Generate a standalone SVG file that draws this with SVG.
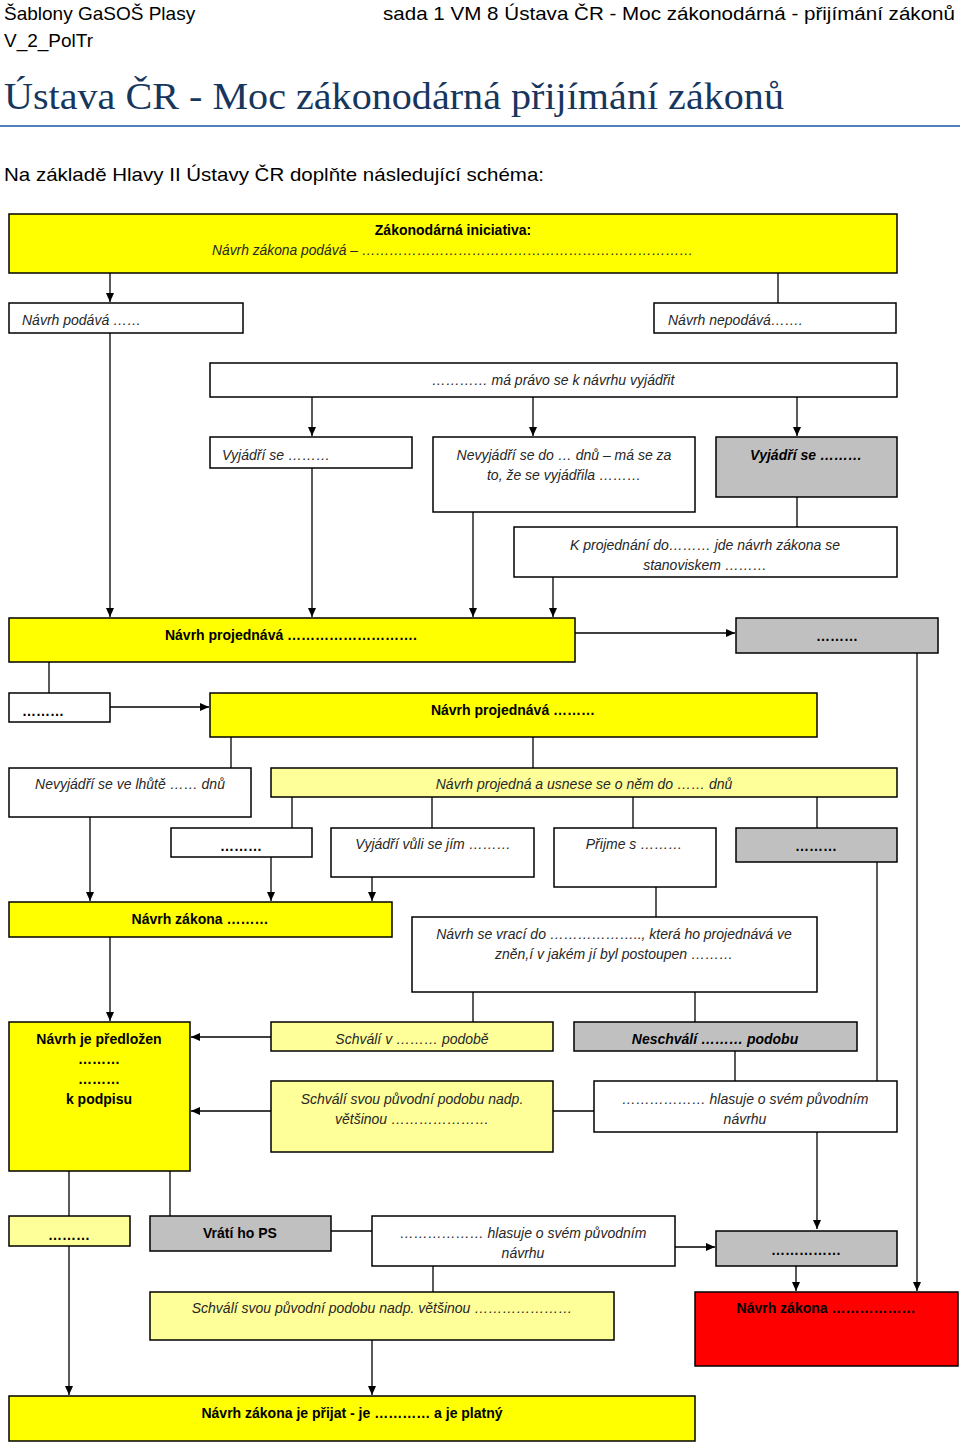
<svg xmlns="http://www.w3.org/2000/svg" width="960" height="1447" viewBox="0 0 960 1447">
<style>
.hd{font-family:"Liberation Sans",Arial,sans-serif;font-size:19px;fill:#000}
.ttl{font-family:"Liberation Serif","DejaVu Serif",serif;font-size:37px;fill:#17365D}
.bx{stroke:#000;stroke-width:1.5}
.w{fill:#fff}.y{fill:#ffff00}.ly{fill:#ffff99}.g{fill:#c0c0c0}.r{fill:#ff0000}
text.t{font-family:"Liberation Sans Narrow","Liberation Sans",Arial,sans-serif;font-size:14px;font-style:italic;fill:#262626}
text.b{font-family:"Liberation Sans Narrow","Liberation Sans",Arial,sans-serif;font-size:14px;font-weight:bold;fill:#000}
text.bi{font-family:"Liberation Sans Narrow","Liberation Sans",Arial,sans-serif;font-size:14px;font-weight:bold;font-style:italic;fill:#000}
.c{text-anchor:middle}
#conn line,#conn path{stroke:#000;stroke-width:1.3;fill:none}
</style>
<defs>
<marker id="ah" markerWidth="10" markerHeight="10" refX="9" refY="5" orient="auto" markerUnits="userSpaceOnUse">
<path d="M0,1 L9,5 L0,9 Z" fill="#000"/>
</marker>
</defs>
<rect width="960" height="1447" fill="#fff"/>
<text class="hd" x="4" y="20">Šablony GaSOŠ Plasy</text>
<text class="hd" x="4" y="47">V_2_PolTr</text>
<text class="hd" x="383" y="20" textLength="572" lengthAdjust="spacingAndGlyphs">sada 1 VM 8 Ústava ČR - Moc zákonodárná - přijímání zákonů</text>
<text class="ttl" x="4" y="109" textLength="780" lengthAdjust="spacingAndGlyphs">Ústava ČR - Moc zákonodárná přijímání zákonů</text>
<line x1="0" y1="126" x2="960" y2="126" stroke="#4F81BD" stroke-width="2"/>
<text class="hd" x="4" y="181" textLength="540" lengthAdjust="spacingAndGlyphs">Na základě Hlavy II Ústavy ČR doplňte následující schéma:</text>

<g id="conn">
<line x1="110" y1="273" x2="110" y2="302" marker-end="url(#ah)"/>
<line x1="778" y1="273" x2="778" y2="303"/>
<line x1="110" y1="333" x2="110" y2="617" marker-end="url(#ah)"/>
<line x1="312" y1="392" x2="312" y2="436" marker-end="url(#ah)"/>
<line x1="533" y1="392" x2="533" y2="436" marker-end="url(#ah)"/>
<line x1="797" y1="392" x2="797" y2="436" marker-end="url(#ah)"/>
<line x1="312" y1="468" x2="312" y2="617" marker-end="url(#ah)"/>
<line x1="473" y1="512" x2="473" y2="617" marker-end="url(#ah)"/>
<line x1="797" y1="497" x2="797" y2="527"/>
<line x1="553" y1="573" x2="553" y2="617" marker-end="url(#ah)"/>
<line x1="575" y1="633" x2="735" y2="633" marker-end="url(#ah)"/>
<line x1="917" y1="650" x2="917" y2="1291" marker-end="url(#ah)"/>
<line x1="49" y1="662" x2="49" y2="693"/>
<line x1="110" y1="707" x2="209" y2="707" marker-end="url(#ah)"/>
<line x1="231" y1="737" x2="231" y2="768"/>
<line x1="533" y1="737" x2="533" y2="768"/>
<line x1="292" y1="797" x2="292" y2="828"/>
<line x1="432" y1="797" x2="432" y2="828"/>
<line x1="633" y1="797" x2="633" y2="828"/>
<line x1="817" y1="797" x2="817" y2="828"/>
<line x1="90" y1="813" x2="90" y2="901" marker-end="url(#ah)"/>
<line x1="271" y1="857" x2="271" y2="901" marker-end="url(#ah)"/>
<line x1="372" y1="872" x2="372" y2="901" marker-end="url(#ah)"/>
<line x1="656" y1="887" x2="656" y2="917"/>
<line x1="877" y1="857" x2="877" y2="1081"/>
<line x1="110" y1="933" x2="110" y2="1021" marker-end="url(#ah)"/>
<line x1="473" y1="992" x2="473" y2="1022"/>
<line x1="695" y1="992" x2="695" y2="1022"/>
<line x1="271" y1="1037" x2="191" y2="1037" marker-end="url(#ah)"/>
<line x1="735" y1="1051" x2="735" y2="1081"/>
<line x1="553" y1="1111" x2="594" y2="1111"/>
<line x1="271" y1="1111" x2="191" y2="1111" marker-end="url(#ah)"/>
<line x1="817" y1="1132" x2="817" y2="1229" marker-end="url(#ah)"/>
<line x1="69" y1="1171" x2="69" y2="1216"/>
<line x1="170" y1="1171" x2="170" y2="1216"/>
<line x1="331" y1="1231" x2="372" y2="1231"/>
<line x1="675" y1="1247" x2="715" y2="1247" marker-end="url(#ah)"/>
<line x1="796" y1="1260" x2="796" y2="1291" marker-end="url(#ah)"/>
<line x1="433" y1="1266" x2="433" y2="1292"/>
<line x1="372" y1="1335" x2="372" y2="1395" marker-end="url(#ah)"/>
<line x1="69" y1="1242" x2="69" y2="1395" marker-end="url(#ah)"/>
</g>

<g id="n-iniciativa"><rect class="bx y" x="9" y="214" width="888" height="59"/>
<text class="b c" x="453" y="235">Zákonodárná iniciativa:</text>
<text class="t" x="212" y="255" textLength="481" lengthAdjust="spacingAndGlyphs">Návrh zákona podává – ………………………………………………………………</text></g>
<g id="n-podava"><rect class="bx w" x="9" y="303" width="234" height="30"/><text class="t" x="22" y="325">Návrh podává ……</text></g>
<g id="n-nepodava"><rect class="bx w" x="654" y="303" width="242" height="30"/><text class="t" x="668" y="325">Návrh nepodává…….</text></g>
<g id="n-pravo"><rect class="bx w" x="210" y="363" width="687" height="34"/><text class="t c" x="553" y="385">………… má právo se k návrhu vyjádřit</text></g>
<g id="n-vyjadri1"><rect class="bx w" x="210" y="437" width="202" height="31"/><text class="t" x="222" y="460">Vyjádří se ………</text></g>
<g id="n-nevyjadri"><rect class="bx w" x="433" y="437" width="262" height="75"/><text class="t c" x="564" y="460">Nevyjádří se do … dnů – má se za</text><text class="t c" x="564" y="480">to, že se vyjádřila ………</text></g>
<g id="n-vyjadri2"><rect class="bx g" x="716" y="437" width="181" height="60"/><text class="bi c" x="806" y="460">Vyjádří se ………</text></g>
<g id="n-projednani"><rect class="bx w" x="514" y="527" width="383" height="50"/><text class="t c" x="705" y="550">K projednání do……… jde návrh zákona se</text><text class="t c" x="705" y="570">stanoviskem ………</text></g>
<g id="n-projednava1"><rect class="bx y" x="9" y="618" width="566" height="44"/><text class="b c" x="291" y="640">Návrh projednává ……………………….</text></g>
<g id="n-gray1"><rect class="bx g" x="736" y="618" width="202" height="35"/><text class="b c" x="837" y="641">………</text></g>
<g id="n-dots1"><rect class="bx w" x="9" y="693" width="101" height="29"/><text class="b" x="22" y="716">………</text></g>
<g id="n-projednava2"><rect class="bx y" x="210" y="693" width="607" height="44"/><text class="b c" x="513" y="715">Návrh projednává ………</text></g>
<g id="n-lhuta"><rect class="bx w" x="9" y="768" width="242" height="49"/><text class="t c" x="130" y="789">Nevyjádří se ve lhůtě …… dnů</text></g>
<g id="n-usnese"><rect class="bx ly" x="271" y="768" width="626" height="29"/><text class="t c" x="584" y="789">Návrh projedná a usnese se o něm do …… dnů</text></g>
<g id="n-dots2"><rect class="bx w" x="171" y="828" width="141" height="29"/><text class="b c" x="241" y="851">………</text></g>
<g id="n-vule"><rect class="bx w" x="331" y="828" width="203" height="49"/><text class="t c" x="433" y="849">Vyjádří vůli se jím ………</text></g>
<g id="n-prijme"><rect class="bx w" x="554" y="828" width="162" height="59"/><text class="t c" x="634" y="849">Přijme s ………</text></g>
<g id="n-gray2"><rect class="bx g" x="736" y="828" width="161" height="34"/><text class="b c" x="816" y="851">………</text></g>
<g id="n-zakona1"><rect class="bx y" x="9" y="902" width="383" height="35"/><text class="b c" x="200" y="924">Návrh zákona ………</text></g>
<g id="n-vraci"><rect class="bx w" x="412" y="917" width="405" height="75"/><text class="t c" x="614" y="939">Návrh se vrací do ……………….., která ho projednává ve</text><text class="t c" x="614" y="959">zněn,í v jakém jí byl postoupen ………</text></g>
<g id="n-predlozen"><rect class="bx y" x="9" y="1022" width="181" height="149"/>
<text class="b c" x="99" y="1044">Návrh je předložen</text><text class="b c" x="99" y="1064">………</text><text class="b c" x="99" y="1084">………</text><text class="b c" x="99" y="1104">k podpisu</text></g>
<g id="n-schvali1"><rect class="bx ly" x="271" y="1022" width="282" height="29"/><text class="t c" x="412" y="1044">Schválí v ……… podobě</text></g>
<g id="n-neschvali"><rect class="bx g" x="574" y="1022" width="283" height="29"/><text class="bi c" x="715" y="1044">Neschválí ……… podobu</text></g>
<g id="n-schvali2"><rect class="bx ly" x="271" y="1081" width="282" height="71"/><text class="t c" x="412" y="1104">Schválí svou původní podobu nadp.</text><text class="t c" x="412" y="1124">většinou …………………</text></g>
<g id="n-hlasuje1"><rect class="bx w" x="594" y="1081" width="303" height="51"/><text class="t c" x="745" y="1104">……………… hlasuje o svém původním</text><text class="t c" x="745" y="1124">návrhu</text></g>
<g id="n-dots3"><rect class="bx ly" x="9" y="1216" width="121" height="30"/><text class="b c" x="69" y="1240">………</text></g>
<g id="n-vrati"><rect class="bx g" x="150" y="1216" width="181" height="35"/><text class="b c" x="240" y="1238">Vrátí ho PS</text></g>
<g id="n-hlasuje2"><rect class="bx w" x="372" y="1216" width="303" height="50"/><text class="t c" x="523" y="1238">……………… hlasuje o svém původním</text><text class="t c" x="523" y="1258">návrhu</text></g>
<g id="n-gray3"><rect class="bx g" x="716" y="1231" width="181" height="35"/><text class="b c" x="806" y="1255">……………</text></g>
<g id="n-red"><rect class="bx r" x="695" y="1292" width="263" height="74"/><text class="b c" x="826" y="1313">Návrh zákona ………………</text></g>
<g id="n-schvali3"><rect class="bx ly" x="150" y="1292" width="464" height="48"/><text class="t c" x="382" y="1313">Schválí svou původní podobu nadp. většinou …………………</text></g>
<g id="n-prijat"><rect class="bx y" x="9" y="1396" width="686" height="45"/><text class="b c" x="352" y="1418">Návrh zákona je přijat  - je ………… a je platný</text></g>
</svg>
